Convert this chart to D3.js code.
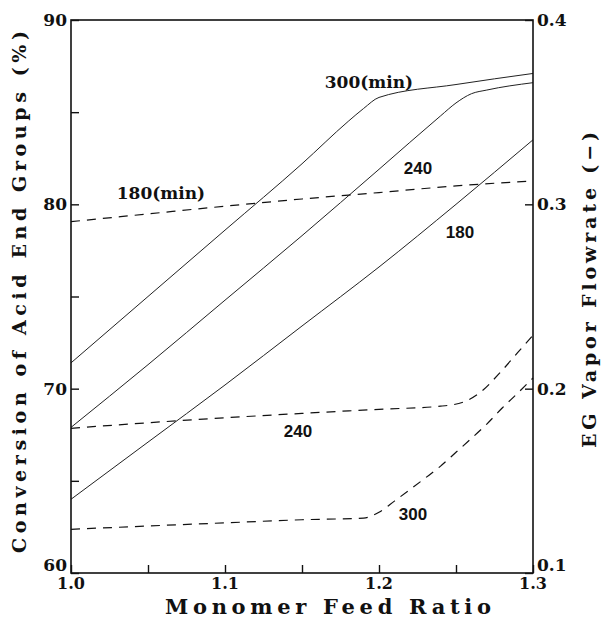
<!DOCTYPE html>
<html>
<head>
<meta charset="utf-8">
<script src="https://cdn.jsdelivr.net/npm/d3@7"></script>
<style>
  html, body { margin: 0; padding: 0; background: #fff; }
  svg { display: block; }
</style>
</head>
<body>
<svg id="chart" width="608" height="620"></svg>
<script>
// ---------- DATA ----------
const xTicks = [1.0, 1.1, 1.2, 1.3];
const xMinorTicks = [1.05, 1.15, 1.25];
const xTickLabels = ["1.0", "1.1", "1.2", "1.3"];
const yLeftTicks = [60, 70, 80, 90];
const yLeftMinor = [65, 75, 85];
const yLeftTickLabels = ["60", "70", "80", "90"];
const yRightTicks = [0.1, 0.2, 0.3, 0.4];
const yRightTickLabels = ["0.1", "0.2", "0.3", "0.4"];

// Conversion of acid end groups (%) vs monomer feed ratio (left axis)
const conv300 = [[1.0,71.4],[1.05,75.0],[1.1,78.6],[1.15,82.2],[1.18,84.5],[1.19,85.2],[1.2,85.8],[1.25,86.5],[1.3,87.1]];
const conv240 = [[1.0,67.9],[1.05,71.3],[1.1,74.8],[1.15,78.3],[1.2,81.9],[1.24,84.8],[1.25,85.5],[1.26,86.0],[1.27,86.2],[1.3,86.6]];
const conv180 = [[1.0,64.0],[1.05,67.1],[1.1,70.2],[1.15,73.4],[1.2,76.6],[1.25,80.0],[1.3,83.5]];

// EG vapor flowrate (-) vs monomer feed ratio (right axis)
const flow180 = [[1.0,0.2906],[1.05,0.2948],[1.1,0.2990],[1.15,0.3029],[1.2,0.3064],[1.25,0.3100],[1.3,0.3127]];
const flow240 = [[1.0,0.1785],[1.05,0.1815],[1.1,0.1842],[1.15,0.1866],[1.2,0.1888],[1.24,0.1905],[1.255,0.1928],[1.265,0.1975],[1.28,0.2100],[1.29,0.2195],[1.3,0.2290]];
const flow300 = [[1.0,0.1237],[1.05,0.1255],[1.1,0.1272],[1.15,0.1289],[1.19,0.1298],[1.2,0.1330],[1.21,0.1390],[1.22,0.1452],[1.23,0.1515],[1.24,0.1580],[1.25,0.1655],[1.26,0.1730],[1.27,0.1808],[1.28,0.1895],[1.29,0.1975],[1.3,0.2058]];

// Curve labels: [text, ratio, value, style]
const convLabels = [["300(min)", 1.1935, 86.31, "serif"], ["240", 1.2253, 81.65, "sans"], ["180", 1.2526, 78.17, "sans"]];
const flowLabels = [["180(min)", 1.0584, 0.3029, "serif"], ["240", 1.1474, 0.1738, "sans"], ["300", 1.2221, 0.1288, "sans"]];

const xTitle = "Monomer Feed Ratio";
const yLeftTitle = "Conversion of Acid End Groups (%)";
const yRightTitle = "EG Vapor Flowrate (\u2212)";

// ---------- DRAW ----------
const svg = d3.select("#chart");
const L = 71, R = 533, T = 20, B = 573;
const serif = "'DejaVu Serif', 'Liberation Serif', serif";
const sans = "'Liberation Sans', Arial, sans-serif";

const x = d3.scaleLinear().domain([1.0, 1.3]).range([L, R]);
const yL = d3.scaleLinear().domain([60, 90]).range([B, T]);
const yR = d3.scaleLinear().domain([0.1, 0.4]).range([B, T]);

// curves
const lineL = d3.line().x(d => x(d[0])).y(d => yL(d[1])).curve(d3.curveMonotoneX);
const lineR = d3.line().x(d => x(d[0])).y(d => yR(d[1])).curve(d3.curveMonotoneX);

[conv300, conv240, conv180].forEach(s => {
  svg.append("path").attr("d", lineL(s)).attr("fill", "none")
    .attr("stroke", "#222").attr("stroke-width", 1);
});
[flow180, flow240, flow300].forEach(s => {
  svg.append("path").attr("d", lineR(s)).attr("fill", "none")
    .attr("stroke", "#111").attr("stroke-width", 1.2)
    .attr("stroke-dasharray", "9,7");
});

// frame
svg.append("rect").attr("x", L).attr("y", T).attr("width", R - L).attr("height", B - T)
  .attr("fill", "none").attr("stroke", "#111").attr("stroke-width", 1.6);

// axes with inward ticks
const axB = d3.axisBottom(x).tickValues(xTicks.concat(xMinorTicks)).tickSize(-8).tickFormat("");
svg.append("g").attr("transform", `translate(0,${B})`).call(axB);
const axL = d3.axisLeft(yL).tickValues(yLeftTicks.concat(yLeftMinor)).tickSize(-8).tickFormat("");
svg.append("g").attr("transform", `translate(${L},0)`).call(axL);
const axR = d3.axisRight(yR).tickValues(yRightTicks).tickSize(-8).tickFormat("");
svg.append("g").attr("transform", `translate(${R},0)`).call(axR);
svg.selectAll(".domain").remove();
svg.selectAll(".tick line").attr("stroke", "#111").attr("stroke-width", 1.4);

// tick labels
svg.selectAll(".xl").data(xTicks).enter().append("text")
  .attr("x", d => x(d)).attr("y", B + 16).attr("text-anchor", "middle")
  .attr("font-family", serif).attr("font-weight", "bold").attr("font-size", 16)
  .attr("fill", "#111").text((d, i) => xTickLabels[i]);
svg.selectAll(".yll").data(yLeftTicks).enter().append("text")
  .attr("x", L - 4).attr("y", d => yL(d) + (d === 60 ? -2 : 6)).attr("text-anchor", "end")
  .attr("font-family", serif).attr("font-weight", "bold").attr("font-size", 17)
  .attr("fill", "#111").text((d, i) => yLeftTickLabels[i]);
svg.selectAll(".yrl").data(yRightTicks).enter().append("text")
  .attr("x", R + 4).attr("y", d => yR(d) + (d === 0.1 ? -2 : 6)).attr("text-anchor", "start")
  .attr("font-family", serif).attr("font-weight", "bold").attr("font-size", 17)
  .attr("fill", "#111").text((d, i) => yRightTickLabels[i]);

// curve labels
convLabels.forEach(l => {
  svg.append("text").attr("x", x(l[1])).attr("y", yL(l[2])).attr("text-anchor", "middle")
    .attr("font-family", l[3] === "serif" ? serif : sans).attr("font-weight", "bold")
    .attr("font-size", 17).attr("fill", "#111").text(l[0]);
});
flowLabels.forEach(l => {
  svg.append("text").attr("x", x(l[1])).attr("y", yR(l[2])).attr("text-anchor", "middle")
    .attr("font-family", l[3] === "serif" ? serif : sans).attr("font-weight", "bold")
    .attr("font-size", 17).attr("fill", "#111").text(l[0]);
});

// axis titles
svg.append("text").attr("x", 328).attr("y", 614).attr("text-anchor", "middle")
  .attr("font-family", serif).attr("font-weight", "bold").attr("font-size", 21)
  .attr("textLength", 326).attr("lengthAdjust", "spacing")
  .attr("fill", "#111").text(xTitle);
svg.append("text").attr("transform", "translate(26,292) rotate(-90)").attr("text-anchor", "middle")
  .attr("font-family", serif).attr("font-weight", "bold").attr("font-size", 19)
  .attr("textLength", 522).attr("lengthAdjust", "spacing")
  .attr("fill", "#111").text(yLeftTitle);
svg.append("text").attr("transform", "translate(596,290) rotate(-90)").attr("text-anchor", "middle")
  .attr("font-family", serif).attr("font-weight", "bold").attr("font-size", 19)
  .attr("textLength", 316).attr("lengthAdjust", "spacing")
  .attr("fill", "#111").text(yRightTitle);
</script>
</body>
</html>
